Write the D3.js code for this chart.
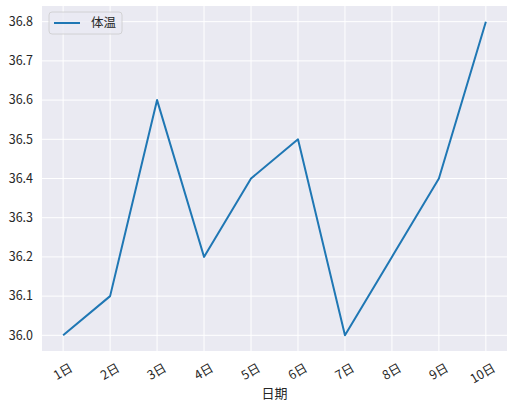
<!DOCTYPE html>
<html lang="zh">
<head>
<meta charset="utf-8">
<script src="https://cdn.jsdelivr.net/npm/d3@7"></script>
<style>
  body { margin: 0; background: #fff; }
  text { font-family: "Noto Sans CJK SC", "DejaVu Sans", sans-serif; fill: #262626; }
</style>
</head>
<body>
<script>
const days = ["1日", "2日", "3日", "4日", "5日", "6日", "7日", "8日", "9日", "10日"];
const temps = [36.0, 36.1, 36.6, 36.2, 36.4, 36.5, 36.0, 36.2, 36.4, 36.8];
const yTicks = [36.0, 36.1, 36.2, 36.3, 36.4, 36.5, 36.6, 36.7, 36.8];

const width = 512, height = 402;
const plotL = 42, plotR = 507, plotT = 6, plotB = 351;

const svg = d3.select(document.body).append("svg")
  .attr("width", width).attr("height", height);

const x = d3.scaleLinear().domain([0.55, 10.45]).range([plotL, plotR]);
const y = d3.scaleLinear().domain([35.96, 36.84]).range([plotB, plotT]);

// background
svg.append("rect")
  .attr("x", plotL).attr("y", plotT)
  .attr("width", plotR - plotL).attr("height", plotB - plotT)
  .attr("fill", "#eaeaf2");

// grid
svg.append("g").selectAll("line").data(days).enter().append("line")
  .attr("x1", (d, i) => x(i + 1)).attr("x2", (d, i) => x(i + 1))
  .attr("y1", plotT).attr("y2", plotB)
  .attr("stroke", "#fff").attr("stroke-width", 1);
svg.append("g").selectAll("line").data(yTicks).enter().append("line")
  .attr("x1", plotL).attr("x2", plotR)
  .attr("y1", d => y(d)).attr("y2", d => y(d))
  .attr("stroke", "#fff").attr("stroke-width", 1);

// y tick labels
svg.append("g").selectAll("text").data(yTicks).enter().append("text")
  .attr("x", plotL - 9).attr("y", d => y(d))
  .attr("dy", "0.35em").attr("text-anchor", "end")
  .attr("font-size", 12.5)
  .text(d => d.toFixed(1));

// x tick labels, rotated
svg.append("g").selectAll("text").data(days).enter().append("text")
  .attr("text-anchor", "end")
  .attr("font-size", 12.5)
  .attr("transform", (d, i) => "translate(" + (x(i + 1) + 6) + "," + (plotB + 12) + ") rotate(-30)")
  .attr("dy", "0.7em")
  .text(d => d);

// x label
svg.append("text")
  .attr("x", (plotL + plotR) / 2).attr("y", 398)
  .attr("text-anchor", "middle").attr("font-size", 13)
  .text("日期");

// line
const line = d3.line()
  .x((d, i) => x(i + 1))
  .y(d => y(d));
svg.append("path")
  .datum(temps)
  .attr("d", line)
  .attr("fill", "none")
  .attr("stroke", "#1f77b4")
  .attr("stroke-width", 2)
  .attr("stroke-linejoin", "round");

// legend
const lg = svg.append("g").attr("transform", "translate(49,12)");
lg.append("rect")
  .attr("width", 73).attr("height", 22).attr("rx", 3)
  .attr("fill", "#eaeaf2").attr("fill-opacity", 0.8)
  .attr("stroke", "#ccc").attr("stroke-width", 0.8);
lg.append("line")
  .attr("x1", 5).attr("x2", 31).attr("y1", 11).attr("y2", 11)
  .attr("stroke", "#1f77b4").attr("stroke-width", 2);
lg.append("text")
  .attr("x", 42).attr("y", 11).attr("dy", "0.35em")
  .attr("font-size", 12.5)
  .text("体温");
</script>
</body>
</html>
